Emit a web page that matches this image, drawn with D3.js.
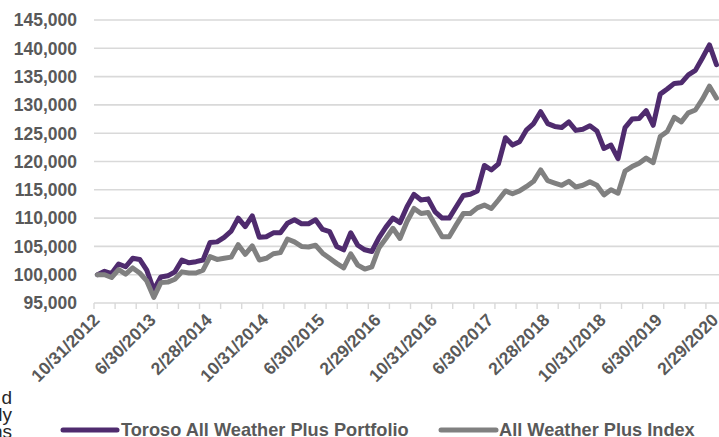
<!DOCTYPE html>
<html>
<head>
<meta charset="utf-8">
<script src="https://cdn.jsdelivr.net/npm/d3@7"></script>
<style>
  html, body { margin: 0; padding: 0; background: #fff; }
  svg { display: block; }
  text { font-family: "Liberation Sans", Arial, sans-serif; }
</style>
</head>
<body>
<svg id="chart" width="719" height="437"></svg>
<script>
// ---- data ----
const startMonth = "2012-10";      // first category (month-end 10/31/2012)
const monthCount = 89;             // through 2/29/2020
const portfolio = [
  100000,100600,100200,101900,101400,102900,102700,100800,97300,99600,
  99800,100500,102600,102100,102300,102600,105700,105800,106600,107700,
  110000,108500,110400,106600,106700,107400,107400,109100,109700,109000,
  109000,109700,108000,107600,105000,104400,107400,105200,104400,104100,
  106500,108400,110000,109200,112000,114200,113200,113400,111100,110000,
  110000,112000,114000,114200,114800,119300,118500,119600,124200,122900,
  123500,125600,126700,128800,126700,126200,126000,127000,125500,125700,
  126300,125400,122300,122900,120500,126000,127500,127600,129000,126400,
  131900,132800,133800,133900,135300,136100,138300,140600,137100
];
const index = [
  100000,100000,99500,100900,100100,101200,100300,98900,96000,98600,
  98700,99200,100500,100300,100300,100800,103200,102700,102900,103100,
  105300,103600,105100,102600,102900,103700,103900,106300,105800,105000,
  104900,105200,103800,102900,102000,101200,103700,101700,101000,101400,
  104700,106400,108200,106400,109400,111700,110800,111000,108800,106700,
  106700,108800,110800,110800,111800,112300,111700,113200,114800,114300,
  114800,115600,116500,118500,116600,116200,115800,116500,115500,115800,
  116400,115800,114100,115000,114400,118300,119100,119700,120600,119800,
  124400,125300,127800,127000,128600,129100,131000,133300,131200
];
const xTickLabels = ["10/31/2012","6/30/2013","2/28/2014","10/31/2014","6/30/2015","2/29/2016",
                     "10/31/2016","6/30/2017","2/28/2018","10/31/2018","6/30/2019","2/29/2020"];
const yTicks = [95000,100000,105000,110000,115000,120000,125000,130000,135000,140000,145000];
const seriesNames = ["Toroso All Weather Plus Portfolio","All Weather Plus Index"];
const seriesColors = ["#4f2b6e","#808080"];
const sideText = ["d","ly","ns"];

// ---- categories (month-end dates) ----
const fmt = d3.timeFormat("%-m/%-d/%Y");
const first = d3.timeParse("%Y-%m")(startMonth);
const cats = d3.range(monthCount).map(i => fmt(d3.timeDay.offset(d3.timeMonth.offset(first, i + 1), -1)));

const svg = d3.select("#chart");
const x = d3.scaleBand().domain(cats).range([94, 720]).padding(0);
const y = d3.scaleLinear().domain([95000, 145000]).range([303, 20]);
const cx = d => x(d) + x.bandwidth() / 2;

// gridlines
svg.append("g").selectAll("line").data(yTicks).join("line")
  .attr("x1", 94).attr("x2", 719)
  .attr("y1", d => y(d)).attr("y2", d => y(d))
  .attr("stroke", "#d9d9d9").attr("stroke-width", 1.6);

// y labels
svg.append("g").selectAll("text").data(yTicks).join("text")
  .attr("x", 77).attr("y", d => y(d)).attr("dy", "0.36em")
  .attr("text-anchor", "end").attr("font-size", 17.5).attr("font-weight", "bold")
  .attr("fill", "#595959").text(d => d3.format(",")(d));

// x tick marks every 3 categories (band boundaries)
const tickIdx = d3.range(0, monthCount + 1, 3);
svg.append("g").selectAll("line").data(tickIdx).join("line")
  .attr("x1", i => 94 + i * x.bandwidth()).attr("x2", i => 94 + i * x.bandwidth())
  .attr("y1", 303).attr("y2", 309)
  .attr("stroke", "#d9d9d9").attr("stroke-width", 1.4);

// x labels
svg.append("g").selectAll("text").data(xTickLabels).join("text")
  .attr("transform", d => `translate(${cx(d) + 3},${321}) rotate(-45)`)
  .attr("text-anchor", "end").attr("font-size", 17.5).attr("font-weight", "bold")
  .attr("fill", "#595959").text(d => d);

// lines
const line = d3.line().x((v, i) => cx(cats[i])).y(v => y(v));
[portfolio, index].forEach((s, k) => {
  svg.append("path").datum(s).attr("d", line)
    .attr("fill", "none").attr("stroke", seriesColors[k]).attr("stroke-width", 5)
    .attr("stroke-linejoin", "round").attr("stroke-linecap", "round");
});

// legend
const legendPos = [{x1: 63, x2: 117, tx: 121}, {x1: 441, x2: 496, tx: 499}];
const lg = svg.append("g");
seriesNames.forEach((n, k) => {
  lg.append("line").attr("x1", legendPos[k].x1).attr("x2", legendPos[k].x2)
    .attr("y1", 430).attr("y2", 430)
    .attr("stroke", seriesColors[k]).attr("stroke-width", 5).attr("stroke-linecap", "round");
  lg.append("text").attr("x", legendPos[k].tx).attr("y", 429).attr("dy", "0.36em")
    .attr("font-size", 18.2).attr("font-weight", "bold").attr("fill", "#595959").text(n);
});

// clipped text from neighbouring content at the left edge
svg.append("g").selectAll("text").data(sideText).join("text")
  .attr("x", 12).attr("y", (d, i) => 404 + i * 17).attr("text-anchor", "end")
  .attr("font-size", 19).attr("fill", "#262626").text(d => d);
</script>
</body>
</html>
